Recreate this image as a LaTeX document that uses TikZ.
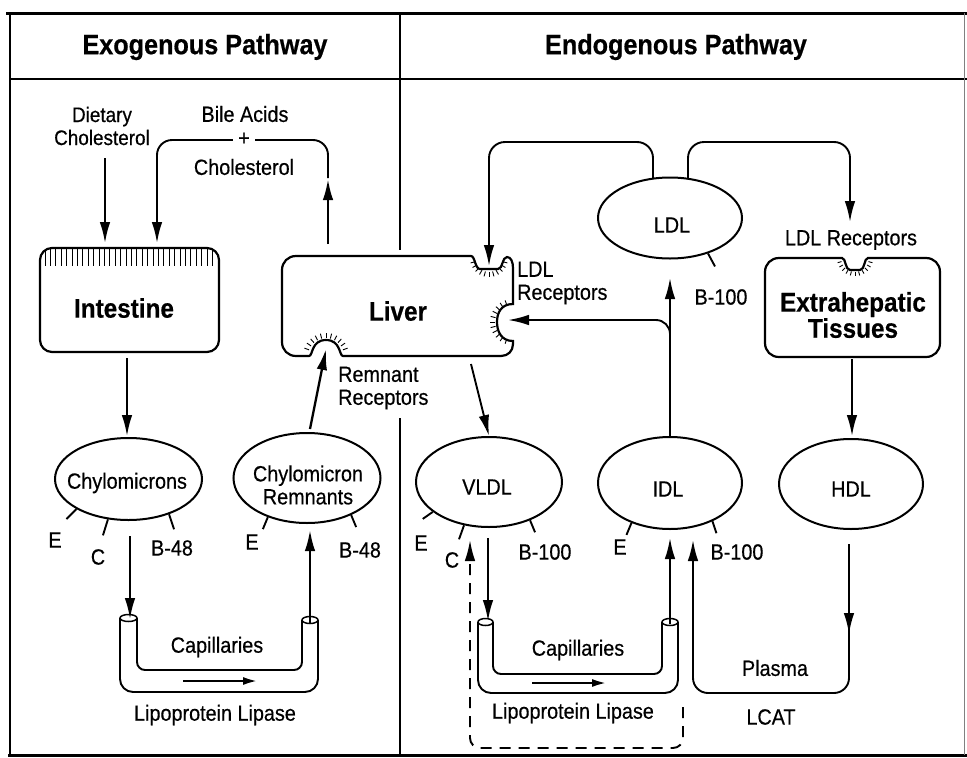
\documentclass[tikz,border=0pt]{standalone}
\usepackage{fontspec}
\setmainfont{Liberation Sans}[FakeStretch=0.9,FakeBold=0.5]
\usetikzlibrary{shapes.geometric,arrows.meta}
\begin{document}
\begin{tikzpicture}[x=1pt,y=-1pt,
  ln/.style={line width=1.9pt},
  arr/.style={line width=1.9pt,-{Latex[length=21pt,width=10.5pt]}},
  lab/.style={font=\fontsize{22}{23}\selectfont, inner sep=0pt},
  blab/.style={font=\fontsize{27}{26}\selectfont\bfseries, inner sep=0pt},
  lipo/.style={ellipse, draw, line width=2pt, inner sep=0pt},
  spike/.style={line width=0.9pt},
  tubeout/.style={line width=1.9pt, rounded corners=13pt},
  tubein/.style={line width=1.9pt, rounded corners=8pt},
  dashline/.style={line width=1.9pt, dash pattern=on 11pt off 8pt, rounded corners=10pt, -{Latex[length=21pt,width=10.5pt]}},
]
\useasboundingbox (0,0) rectangle (967,758);
% frame
\draw[line width=3pt] (6,13) -- (967,13);
\draw[line width=2.5pt] (10,79) -- (967,79);
\draw[line width=1.5pt] (10,13) -- (10,755);
\draw[line width=3pt] (8,755) -- (967,755);
\draw[line width=0.6pt, gray] (964,13) -- (964,755);
\draw[line width=1.5pt] (400,13) -- (400,250);
\draw[line width=1.5pt] (400,418) -- (400,755);

% headers
\node[blab, font=\fontsize{28}{26}\selectfont\bfseries] (exo) at (205,47) {Exogenous Pathway};
\node[blab, font=\fontsize{28}{26}\selectfont\bfseries] (endo) at (676,47) {Endogenous Pathway};

% top-left labels
\node[lab, align=center, font=\fontsize{21}{23}\selectfont] (diet) at (102,126) {Dietary\\Cholesterol};
\node[lab] (bile) at (245,114) {Bile Acids};
\node[lab] (chol) at (244,167) {Cholesterol};

% intestine
\node[draw, line width=2.2pt, rounded corners=12pt, minimum width=179pt, minimum height=104pt] (int) at (129.5,300) {};
\foreach \i in {0,...,31} \draw[line width=1pt] ({45+5.4*\i},249) -- ({45+5.4*\i},266);
\node[blab] (intlab) at (124,308) {Intestine};

% liver
\node[minimum width=231pt, minimum height=100pt] (liver) at (397.5,306) {};
\draw[line width=2.2pt] (296,256) -- (471,256)
  .. controls (475,256) and (475,269) .. (480,269) -- (498,269)
  .. controls (503,269) and (502,257) .. (507,257)
  .. controls (511,257) and (513,262) .. (513,268)
  -- (513,304)
  .. controls (501,304) and (497,313) .. (497,322)
  .. controls (497,331) and (501,341) .. (513,341)
  -- (513,344)
  .. controls (513,351) and (508,356) .. (501,356)
  -- (343,356)
  .. controls (339,356) and (341,340) .. (326,340)
  .. controls (311,340) and (313,356) .. (309,356)
  -- (296,356)
  .. controls (288,356) and (282,350) .. (282,342)
  -- (282,270)
  .. controls (282,262) and (288,256) .. (296,256) -- cycle;
\foreach \a in {15,30,...,165} \draw[spike] ({489+14*cos(\a)},{258+14*sin(\a)}) -- ({489+19*cos(\a)},{258+19*sin(\a)});
\foreach \a in {110,124,...,250} \draw[spike] ({513+18*cos(\a)},{322+18*sin(\a)}) -- ({513+23*cos(\a)},{322+23*sin(\a)});
\foreach \a in {200,214,...,340} \draw[spike] ({326+18*cos(\a)},{356+18*sin(\a)}) -- ({326+23*cos(\a)},{356+23*sin(\a)});
\node[blab] (liverlab) at (398,311) {Liver};
\node[lab, align=left, anchor=west] (ldlrec) at (517,283) {LDL\\Receptors};
\node[lab, align=left, anchor=west] (remrec) at (338,388) {Remnant\\Receptors};

% extrahepatic
\node[minimum width=175pt, minimum height=99pt] (ext) at (852.5,307.5) {};
\draw[line width=2.2pt] (779,258) -- (842,258)
  .. controls (846,258) and (845,270) .. (850,270) -- (860,270)
  .. controls (865,270) and (864,258) .. (868,258) -- (926,258)
  .. controls (934,258) and (940,264) .. (940,272) -- (940,343)
  .. controls (940,351) and (934,357) .. (926,357) -- (779,357)
  .. controls (771,357) and (765,351) .. (765,343) -- (765,272)
  .. controls (765,264) and (771,258) .. (779,258) -- cycle;
\foreach \a in {15,30,...,165} \draw[spike] ({855+14*cos(\a)},{258+14*sin(\a)}) -- ({855+18*cos(\a)},{258+18*sin(\a)});
\node[blab, align=center, font=\fontsize{27}{25}\selectfont\bfseries] (extlab) at (853,315) {Extrahepatic\\Tissues};
\node[lab] (ldlrec2) at (851,240) {LDL Receptors};

% lipoproteins
\node[lipo, minimum width=147pt, minimum height=82pt] (chy) at (128.5,479) {};
\node[lab] (chylab) at (127,483) {Chylomicrons};
\node[lipo, minimum width=147pt, minimum height=90pt] (rem) at (307,478) {};
\node[lab, align=center] (remlab) at (308,485) {Chylomicron\\Remnants};
\node[lipo, minimum width=146pt, minimum height=90pt] (vldl) at (489,482) {};
\node[lab] (vldllab) at (487,487) {VLDL};
\node[lipo, minimum width=144pt, minimum height=92pt] (idl) at (670,483) {};
\node[lab] (idllab) at (668,489) {IDL};
\node[lipo, minimum width=144pt, minimum height=90pt] (hdl) at (851,484) {};
\node[lab] (hdllab) at (851,489) {HDL};
\node[lipo, minimum width=144pt, minimum height=81pt] (ldl) at (670,218) {};
\node[lab] (ldllab) at (672,225) {LDL};

% apoprotein ticks and labels
\draw[ln] (chy.210) -- ++(-10,10);
\draw[ln] (chy.243) -- ++(-5,16);
\draw[ln] (chy.319) -- ++(5,15);
\node[lab] (chyE) at (55,540) {E};
\node[lab] (chyC) at (98,557) {C};
\node[lab] (chyB) at (172,548) {B-48};
\draw[ln] (rem.225) -- ++(-5,12);
\draw[ln] (rem.320) -- ++(5,12);
\node[lab] (remE) at (252,542) {E};
\node[lab] (remB) at (360,550) {B-48};
\draw[ln] (vldl.208) -- ++(-10,7);
\draw[ln] (vldl.240) -- ++(-5,14);
\draw[ln] (vldl.317) -- ++(5,12);
\node[lab] (vE) at (421,543) {E};
\node[lab] (vC) at (452,560) {C};
\node[lab] (vB) at (545,552) {B-100};
\draw[ln] (idl.226) -- ++(-5,12);
\draw[ln] (idl.318) -- ++(4,12);
\node[lab] (iE) at (620,547) {E};
\node[lab] (iB) at (737,552) {B-100};
\draw[ln] (ldl.317) -- ++(7,13);
\node[lab] (lB) at (721,297) {B-100};

% capillaries (left)
\draw[tubeout] (120,618) -- (120,692) -- (318,692) -- (318,620);
\draw[tubein] (137,618) -- (137,670) -- (302,670) -- (302,620);
\draw[line width=1.5pt] (128.5,618) ellipse [x radius=8.5pt, y radius=3.5pt];
\draw[line width=1.5pt] (310,620) ellipse [x radius=8pt, y radius=3.5pt];
\coordinate (la1) at (183,681); \coordinate (la2) at (258,681);
\draw[line width=2.6pt, -{Latex[length=15pt,width=8pt]}] (la1) -- (la2);
\node[lab] (cap1) at (217,647) {Capillaries};
\node[lab] (lpl1) at (215,715) {Lipoprotein Lipase};

% capillaries (right)
\draw[tubeout] (478,622) -- (478,693) -- (678,693) -- (678,622);
\draw[tubein] (493,622) -- (493,674) -- (662,674) -- (662,622);
\draw[line width=1.5pt] (485.5,622) ellipse [x radius=7.5pt, y radius=3.5pt];
\draw[line width=1.5pt] (670,622) ellipse [x radius=8pt, y radius=3.5pt];
\coordinate (ra1) at (532,683); \coordinate (ra2) at (607,683);
\draw[line width=2.6pt, -{Latex[length=15pt,width=8pt]}] (ra1) -- (ra2);
\node[lab] (cap2) at (578,650) {Capillaries};
\node[lab] (lpl2) at (573,713) {Lipoprotein Lipase};
\node[lab] (plasma) at (775,668) {Plasma};
\node[lab] (lcat) at (771,717) {LCAT};

% connectors
\coordinate (d1) at (105,158); \coordinate (d2) at (105,243);
\draw[arr] (d1) -- (d2);
\coordinate (b1) at (328,178); \coordinate (b2) at (157,243);
\draw[arr, rounded corners=15pt] (b1) -- (328,140) -- (157,140) -- (b2);
\node[lab, fill=white, inner sep=5pt] (plus) at (244,139) {+};
\coordinate (b3) at (328,244); \coordinate (b4) at (328,179);
\draw[arr, line width=2.4pt] (b3) -- (b4);

\coordinate (i1) at (127,358); \coordinate (i2) at (127,436);
\draw[arr] (i1) -- (i2);
\coordinate (c1) at (130,536); \coordinate (c2) at (130,619);
\draw[arr] (c1) -- (c2);
\coordinate (c3) at (310,623); \coordinate (c4) at (310,530);
\draw[arr, line width=2.3pt] (c3) -- (c4);
\coordinate (r1) at (310,429); \coordinate (r2) at (326,349);
\draw[arr, line width=2.3pt] (r1) -- (r2);
\coordinate (v0) at (471,364); \coordinate (v1) at (489,436);
\draw[arr] (v0) -- (v1);
\coordinate (v2) at (488,538); \coordinate (v3) at (488,621);
\draw[arr] (v2) -- (v3);
\coordinate (v4) at (670,624); \coordinate (v5) at (670,538);
\draw[arr] (v4) -- (v5);
\coordinate (u1) at (670,437); \coordinate (u2) at (670,278);
\draw[arr] (u1) -- (u2);
\coordinate (u3) at (670,360); \coordinate (u4) at (508,320);
\draw[arr, rounded corners=14pt] (u3) -- (670,320) -- (u4);
\coordinate (l1) at (653,178); \coordinate (l2) at (489,266);
\draw[arr, rounded corners=16pt] (l1) -- (653,142) -- (489,142) -- (l2);
\coordinate (l3) at (688,178); \coordinate (l4) at (850,222);
\draw[arr, rounded corners=16pt] (l3) -- (688,142) -- (850,142) -- (l4);
\coordinate (e1) at (852,359); \coordinate (e2) at (852,436);
\draw[arr] (e1) -- (e2);
\coordinate (h1) at (849,544); \coordinate (h2) at (849,634);
\draw[arr] (h1) -- (h2);
\coordinate (h3) at (849,625); \coordinate (h4) at (693,540);
\draw[arr, rounded corners=15pt] (h3) -- (849,693) -- (693,693) -- (h4);
\coordinate (q1) at (683,707); \coordinate (q2) at (470,540);
\draw[dashline] (q1) -- (683,748) -- (470,748) -- (q2);
\end{tikzpicture}
\end{document}
